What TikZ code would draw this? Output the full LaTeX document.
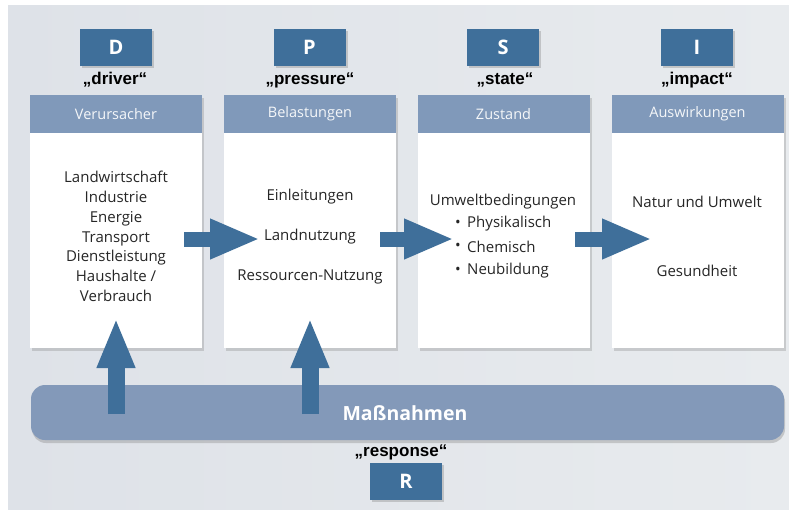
\documentclass[tikz,border=0pt]{standalone}
\usepackage{fontspec}
\setmainfont{Open Sans}
\newfontfamily\labfont{Liberation Sans}
\usetikzlibrary{arrows.meta,shadows}
\definecolor{boxblue}{HTML}{3F6F9A}
\definecolor{headblue}{HTML}{8099BA}
\definecolor{barblue}{HTML}{8399B9}
\definecolor{txt}{HTML}{262626}
\definecolor{bgl}{HTML}{DEE2E8}
\definecolor{bgm}{HTML}{F3F4F6}
\definecolor{bgr}{HTML}{E8EBEE}
\tikzset{
  letterbox/.style={fill=boxblue, minimum width=72pt, minimum height=37pt, inner sep=0pt,
    text=white, font=\fontsize{20}{22}\selectfont\bfseries,
    drop shadow={shadow xshift=2pt, shadow yshift=-2pt, opacity=0.35}},
  lab/.style={font=\labfont\fontsize{17}{19}\selectfont\bfseries, text=black, inner sep=0pt},
  panel/.style={fill=white, minimum width=172pt, minimum height=253pt, inner sep=0pt,
    drop shadow={shadow xshift=2pt, shadow yshift=-3pt, opacity=0.3}},
  header/.style={fill=headblue, minimum width=172pt, minimum height=38pt, inner sep=0pt,
    text=white!92!headblue, font=\fontsize{14.5}{16}\selectfont},
  body/.style={text=txt, font=\fontsize{15}{19.8}\selectfont, inner sep=0pt, align=center},
  bighor/.style={line width=15pt, draw=boxblue, -{Triangle[length=50pt,width=37pt]}},
  bigver/.style={line width=17pt, draw=boxblue, -{Triangle[length=50pt,width=35pt]}}
}
\begin{document}
\begin{tikzpicture}[x=1pt,y=-1pt]
\useasboundingbox (0,0) rectangle (789,509);
\fill[white] (0,0) rectangle (789,509);
\shade[left color=bgl, middle color=bgm, right color=bgr] (8,5) rectangle (789,509);

% letter boxes and labels
\node[letterbox] (D) at (116,47.5) {D};
\node[letterbox] (P) at (309.5,47.5) {P};
\node[letterbox] (S) at (503,47.5) {S};
\node[letterbox] (I) at (697,47.5) {I};
\node[lab] (lD) at (115,80) {„driver“};
\node[lab] (lP) at (310,80) {„pressure“};
\node[lab] (lS) at (505,80) {„state“};
\node[lab] (lI) at (697,80) {„impact“};

% panels
\node[panel] (p1) at (116,221.5) {};
\node[panel] (p2) at (310,221.5) {};
\node[panel] (p3) at (503.5,221.5) {};
\node[panel] (p4) at (697.5,221.5) {};
\node[header, anchor=north] (h1) at (p1.north) {Verursacher};
\node[header, anchor=north] (h2) at (p2.north) {Belastungen};
\node[header, anchor=north] (h3) at (p3.north) {Zustand};
\node[header, anchor=north] (h4) at (p4.north) {Auswirkungen};

% panel texts
\node[body] (t1) at (116,236.5) {Landwirtschaft\\Industrie\\Energie\\Transport\\Dienstleistung\\Haushalte /\\Verbrauch};
\node[body] (t2a) at (310,197) {Einleitungen};
\node[body] (t2b) at (310,237) {Landnutzung};
\node[body] (t2c) at (310,277) {Ressourcen-Nutzung};
\node[body] (t3) at (503,202) {Umweltbedingungen};
\node[body] (b1) at (458,224) {•};
\node[body] (b2) at (458,247) {•};
\node[body] (b3) at (458,271) {•};
\node[body, anchor=west] (t3a) at (467,224) {Physikalisch};
\node[body, anchor=west] (t3b) at (467,247) {Chemisch};
\node[body, anchor=west] (t3c) at (467,271) {Neubildung};
\node[body] (t4a) at (697,202) {Natur und Umwelt};
\node[body] (t4b) at (697,271) {Gesundheit};

% measures bar
\node[fill=barblue, rounded corners=14pt, minimum width=753pt, minimum height=55pt, inner sep=0pt,
  drop shadow={shadow xshift=1pt, shadow yshift=-3pt, opacity=0.35}] (M) at (407.5,412.5) {};
\node[text=white, font=\fontsize{19.5}{21}\selectfont\bfseries, inner sep=0pt] (Mt) at (405,413) {Maßnahmen};
\node[lab] (lR) at (401,452) {„response“};
\node[letterbox] (R) at (406,481) {R};

% arrows
\coordinate (a1s) at (184,239); \coordinate (a1e) at (260,239);
\coordinate (a2s) at (380,239); \coordinate (a2e) at (454,239);
\coordinate (a3s) at (575,239); \coordinate (a3e) at (652,239);
\draw[bighor] (a1s) -- (a1e);
\draw[bighor] (a2s) -- (a2e);
\draw[bighor] (a3s) -- (a3e);
\coordinate (v1s) at (116,414); \coordinate (v1e) at (116,318);
\coordinate (v2s) at (310,414); \coordinate (v2e) at (310,318);
\draw[bigver] (v1s) -- (v1e);
\draw[bigver] (v2s) -- (v2e);
\end{tikzpicture}
\end{document}
